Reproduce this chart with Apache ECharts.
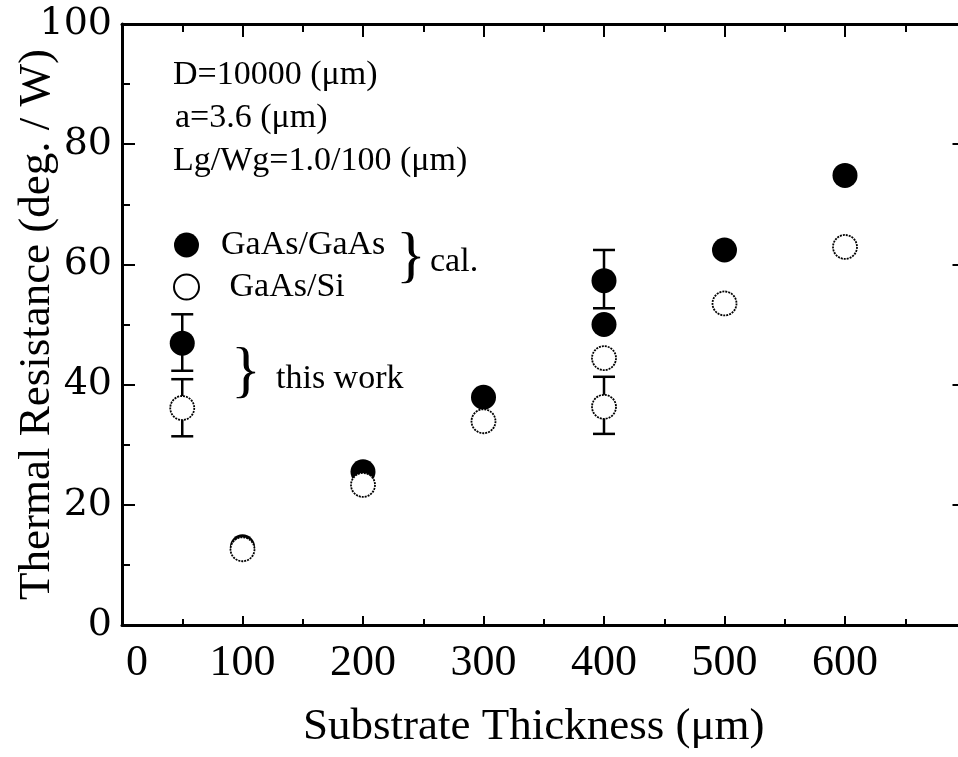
<!DOCTYPE html>
<html>
<head>
<meta charset="utf-8">
<script src="https://cdn.jsdelivr.net/npm/echarts@6/dist/echarts.min.js"></script>
<style>
  html, body { margin: 0; padding: 0; background: #fff; }
  #chart { width: 958px; height: 757px; }
</style>
</head>
<body>
<div id="chart"></div>
<script>
// Substrate thickness (um) for the calculated points
const thickness = [100, 200, 300, 400, 500, 600];
// Calculated thermal resistance (deg./W)
const calGaAsGaAs = [13.0, 25.5, 37.9, 50.0, 62.4, 74.8];
const calGaAsSi = [12.6, 23.3, 33.9, 44.4, 53.5, 62.9];

// Measured values (this work) with error ranges
const measuredX = [400];
const measuredGaAsGaAs = [57.3];
const measuredGaAsGaAsRange = [[52.7, 62.4]];
const measuredGaAsSi = [36.3];
const measuredGaAsSiRange = [[31.8, 41.3]];

// Key symbols for "this work"
const keyX = [50];
const keyGaAsGaAs = [46.9];
const keyGaAsGaAsRange = [[42.3, 51.7]];
const keyGaAsSi = [36.1];
const keyGaAsSiRange = [[31.4, 40.9]];

const xTickLabels = ['0', '100', '200', '300', '400', '500', '600'];

const serif = 'Liberation Serif';
const filledStyle = { color: '#000', opacity: 1 };
const hollowStyle = { color: '#fff', opacity: 1, borderColor: '#000', borderWidth: 1.8, borderType: [2, 1] };

const pairs = (xs, ys) => xs.map((x, i) => [x, ys[i]]);
const errRows = [];
[[measuredX, measuredGaAsGaAsRange], [measuredX, measuredGaAsSiRange],
 [keyX, keyGaAsGaAsRange], [keyX, keyGaAsSiRange]].forEach(([xs, rs]) => {
  xs.forEach((x, i) => errRows.push([x, rs[i][0], rs[i][1]]));
});

const chart = echarts.init(document.getElementById('chart'), null, { renderer: 'canvas' });

const tickCommon = { inside: true, lineStyle: { color: '#000', width: 2 } };

chart.setOption({
  animation: false,
  backgroundColor: '#fff',
  grid: { left: 122, top: 24, width: 843.5, height: 601, containLabel: false, outerBoundsMode: 'none' },
  legend: {
    orient: 'vertical',
    left: 168,
    top: 223,
    itemWidth: 25,
    itemHeight: 25,
    itemGap: 8,
    data: ['GaAs/GaAs', 'GaAs/Si'],
    formatter: name => (name === 'GaAs/Si' ? ' ' + name : name),
    textStyle: { fontFamily: serif, fontSize: 34, color: '#000', lineHeight: 34, padding: [0, 0, 0, 17] },
    selectedMode: false
  },
  xAxis: [
    {
      type: 'value', position: 'bottom', min: 0, max: 700, interval: 100,
      axisLine: { onZero: false, lineStyle: { color: '#000', width: 3 } },
      axisTick: Object.assign({ length: 9 }, tickCommon),
      minorTick: { show: true, splitNumber: 2, length: 6, lineStyle: { color: '#000', width: 2 } },
      splitLine: { show: false },
      axisLabel: {
        margin: 16,
        fontFamily: serif, fontSize: 44, color: '#000',
        formatter: v => {
          const i = v / 100;
          if (i >= xTickLabels.length) return '';
          return i === 0 ? '{z|' + xTickLabels[0] + '}' : xTickLabels[i];
        },
        rich: { z: { fontFamily: serif, fontSize: 44, color: '#000', padding: [0, 0, 0, 30] } }
      },
      name: 'Substrate Thickness (\u03bcm)',
      nameLocation: 'middle',
      nameGap: 80,
      nameMoveOverlap: false,
      nameTextStyle: { fontFamily: serif, fontSize: 45, color: '#000', padding: [0, 20, 0, 0] }
    },
    {
      type: 'value', position: 'top', min: 0, max: 700, interval: 100,
      axisLine: { onZero: false, lineStyle: { color: '#000', width: 3 } },
      axisTick: Object.assign({ length: 13 }, tickCommon),
      minorTick: { show: true, splitNumber: 2, length: 8, lineStyle: { color: '#000', width: 2 } },
      splitLine: { show: false },
      axisLabel: { show: false }
    }
  ],
  yAxis: [
    {
      type: 'value', position: 'left', min: 0, max: 100, interval: 20,
      axisLine: { onZero: false, lineStyle: { color: '#000', width: 3 } },
      axisTick: Object.assign({ length: 13 }, tickCommon),
      minorTick: { show: true, splitNumber: 2, length: 8, lineStyle: { color: '#000', width: 2 } },
      splitLine: { show: false },
      axisLabel: { margin: 10, fontFamily: 'DejaVu Serif', fontSize: 38, color: '#000' },
      name: 'Thermal Resistance (deg. / W)',
      nameLocation: 'middle',
      nameGap: 62,
      nameMoveOverlap: false,
      nameTextStyle: { fontFamily: serif, fontSize: 45, color: '#000' }
    },
    {
      type: 'value', position: 'right', min: 0, max: 100, interval: 20,
      axisLine: { onZero: false, lineStyle: { color: '#000', width: 3 } },
      axisTick: Object.assign({ length: 13 }, tickCommon),
      splitLine: { show: false },
      axisLabel: { show: false }
    }
  ],
  series: [
    {
      name: 'GaAs/GaAs', type: 'scatter', symbol: 'circle', symbolSize: 25,
      itemStyle: filledStyle, data: pairs(thickness, calGaAsGaAs), z: 3
    },
    {
      name: 'GaAs/Si', type: 'scatter', symbol: 'circle', symbolSize: 24,
      itemStyle: hollowStyle, data: pairs(thickness, calGaAsSi), z: 4
    },
    {
      name: 'error range', type: 'custom', z: 2,
      data: errRows,
      renderItem: (params, api) => {
        const x = api.value(0);
        const lo = api.coord([x, api.value(1)]);
        const hi = api.coord([x, api.value(2)]);
        const half = 11;
        const style = { stroke: '#000', lineWidth: 2.5 };
        return {
          type: 'group',
          children: [
            { type: 'line', shape: { x1: lo[0], y1: lo[1], x2: hi[0], y2: hi[1] }, style },
            { type: 'line', shape: { x1: lo[0] - half, y1: lo[1], x2: lo[0] + half, y2: lo[1] }, style },
            { type: 'line', shape: { x1: hi[0] - half, y1: hi[1], x2: hi[0] + half, y2: hi[1] }, style }
          ]
        };
      }
    },
    {
      name: 'GaAs/GaAs this work', type: 'scatter', symbol: 'circle', symbolSize: 25,
      itemStyle: filledStyle, z: 5,
      data: pairs(measuredX, measuredGaAsGaAs).concat(pairs(keyX, keyGaAsGaAs))
    },
    {
      name: 'GaAs/Si this work', type: 'scatter', symbol: 'circle', symbolSize: 24,
      itemStyle: hollowStyle, z: 5,
      data: pairs(measuredX, measuredGaAsSi).concat(pairs(keyX, keyGaAsSi))
    }
  ],
  graphic: [
    { type: 'text', left: 173, top: 58, style: { text: 'D=10000 (\u03bcm)', font: '34px "Liberation Serif"', fill: '#000' } },
    { type: 'text', left: 175, top: 101, style: { text: 'a=3.6 (\u03bcm)', font: '34px "Liberation Serif"', fill: '#000' } },
    { type: 'text', left: 173, top: 144, style: { text: 'Lg/Wg=1.0/100 (\u03bcm)', font: '34px "Liberation Serif"', fill: '#000' } },
    { type: 'text', left: 396, top: 228, style: { text: '}', font: '62px "Liberation Serif"', fill: '#000' } },
    { type: 'text', left: 430, top: 245, style: { text: 'cal.', font: '34px "Liberation Serif"', fill: '#000' } },
    { type: 'text', left: 231, top: 343, style: { text: '}', font: '62px "Liberation Serif"', fill: '#000' } },
    { type: 'text', left: 276, top: 362, style: { text: 'this work', font: '34px "Liberation Serif"', fill: '#000' } }
  ]
});
</script>
</body>
</html>
